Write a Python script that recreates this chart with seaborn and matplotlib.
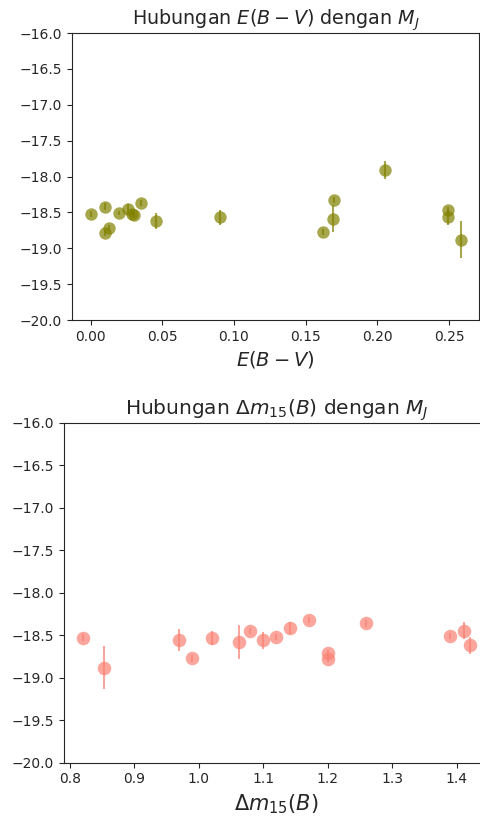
import matplotlib
matplotlib.use("Agg")
import matplotlib.pyplot as plt
import pandas as pd
import seaborn as sns

# data
ebv = [0.000, 0.010, 0.010, 0.013, 0.020, 0.026, 0.029, 0.030, 0.035, 0.046,
       0.090, 0.162, 0.169, 0.170, 0.205, 0.249, 0.249, 0.258]
mj_ebv = [-18.52, -18.42, -18.79, -18.72, -18.51, -18.45, -18.52, -18.54, -18.37, -18.62,
          -18.57, -18.77, -18.59, -18.33, -17.91, -18.46, -18.57, -18.88]
err_ebv = [0.04, 0.05, 0.04, 0.04, 0.03, 0.07, 0.04, 0.04, 0.04, 0.11,
           0.10, 0.04, 0.19, 0.04, 0.12, 0.04, 0.10, 0.26]

dm15 = [0.821, 0.853, 0.969, 0.989, 1.021, 1.062, 1.079, 1.100, 1.120, 1.141,
        1.171, 1.200, 1.200, 1.259, 1.389, 1.411, 1.420]
mj_dm15 = [-18.53, -18.88, -18.56, -18.77, -18.53, -18.58, -18.45, -18.56, -18.52, -18.42,
           -18.32, -18.71, -18.78, -18.36, -18.51, -18.45, -18.62]
err_dm15 = [0.04, 0.25, 0.13, 0.04, 0.08, 0.20, 0.04, 0.10, 0.04, 0.07,
            0.04, 0.04, 0.04, 0.04, 0.04, 0.10, 0.10]

df_ebv = pd.DataFrame({"ebv": ebv, "mj": mj_ebv, "err": err_ebv})
df_dm15 = pd.DataFrame({"dm15": dm15, "mj": mj_dm15, "err": err_dm15})

sns.set_style("ticks")
plt.rcParams["font.family"] = ["DejaVu Sans"]

fig = plt.figure(figsize=(4.8, 8.21), dpi=100)
ax1 = fig.add_axes([0.15, 0.6102, 0.848, 0.3496])
ax2 = fig.add_axes([0.1333, 0.0710, 0.8857, 0.4141])

# top panel: E(B-V)
ax1.errorbar(df_ebv["ebv"], df_ebv["mj"], yerr=df_ebv["err"], fmt="none",
             ecolor="olive", alpha=0.7, elinewidth=1.5)
sns.scatterplot(data=df_ebv, x="ebv", y="mj", ax=ax1, color="olive",
                alpha=0.7, s=80, linewidth=0)
ax1.set_ylim(-20, -16)
ax1.set_title("Hubungan $E(B-V)$ dengan $M_J$", fontsize=13.8)
ax1.set_xlabel("$E(B-V)$", fontsize=14)
ax1.set_ylabel("")
ax1.tick_params(labelsize=10)

# bottom panel: delta m15(B)
ax2.errorbar(df_dm15["dm15"], df_dm15["mj"], yerr=df_dm15["err"], fmt="none",
             ecolor="salmon", alpha=0.7, elinewidth=1.5)
sns.scatterplot(data=df_dm15, x="dm15", y="mj", ax=ax2, color="salmon",
                alpha=0.7, s=95, linewidth=0)
ax2.set_ylim(-20, -16)
ax2.set_title(r"Hubungan $\Delta m_{15}(B)$ dengan $M_J$", fontsize=14.5)
ax2.set_xlabel(r"$\Delta m_{15}(B)$", fontsize=15)
ax2.set_ylabel("")
ax2.tick_params(labelsize=10)

fig.savefig("out.png", dpi=100)
